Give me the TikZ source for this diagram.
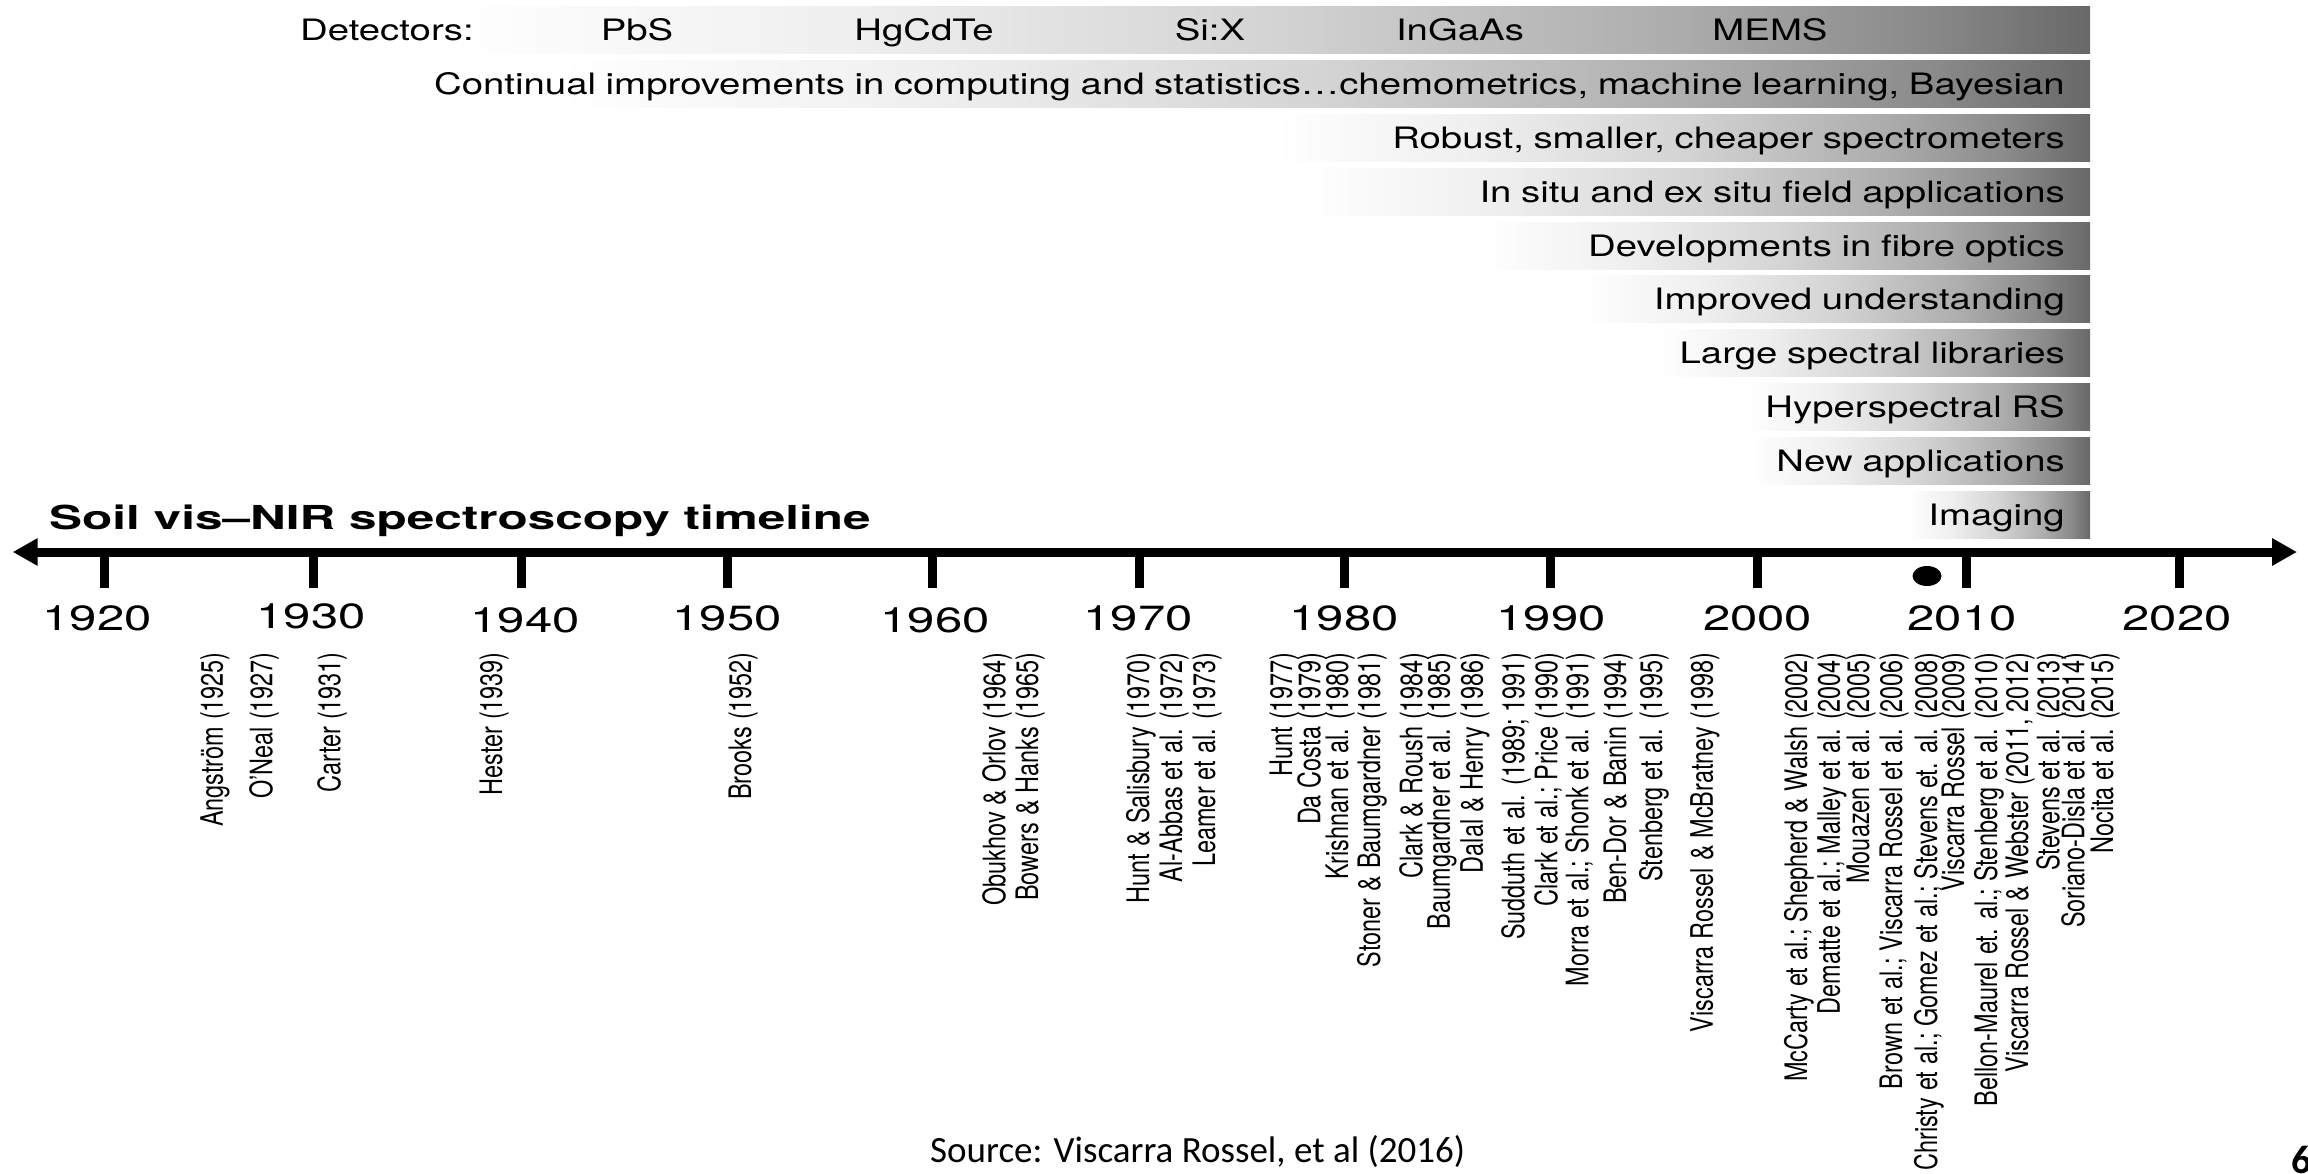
\documentclass[tikz,border=0pt]{standalone}
\usepackage{fontspec}
\setmainfont{TeX Gyre Heros}
% widened Helvetica-like faces for the stretched figure lettering
\newfontfamily\barfont[FakeStretch=1.3]{TeX Gyre Heros}
\newfontfamily\yearfont[FakeStretch=1.4]{TeX Gyre Heros}
\newfontfamily\titlefont[FakeStretch=1.5]{TeX Gyre Heros}
% rotated references: tall size, narrowed along the line
\newfontfamily\citefont[FakeStretch=0.756]{TeX Gyre Heros}
\newfontfamily\notefont{Carlito}
\newcommand\citesetup{\citefont\fontsize{31}{32}\selectfont\spaceskip=7pt plus 2pt\relax}
\newcommand\barsetup{\barfont\fontsize{29.5}{32}\selectfont\spaceskip=9.6pt plus 2pt\relax}
\usetikzlibrary{arrows.meta}

\definecolor{fadeA}{gray}{0.935}
\definecolor{fadeB}{gray}{0.83}
\definecolor{fadeC}{gray}{0.675}
\definecolor{fadeD}{gray}{0.54}
\definecolor{fadeE}{gray}{0.41}
\pgfdeclarehorizontalshading{barfade}{100bp}{color(0bp)=(white); color(25bp)=(white);
  color(37.5bp)=(fadeA); color(50bp)=(fadeB); color(62.5bp)=(fadeC);
  color(70bp)=(fadeD); color(75bp)=(fadeE); color(100bp)=(fadeE)}

\begin{document}
\begin{tikzpicture}[x=1pt,y=-1pt,
  bar/.style={shading=barfade, draw=none},
  bartext/.style={font=\barsetup, inner sep=0pt, anchor=base east},
  dettext/.style={font=\barsetup, inner sep=0pt, anchor=base},
  yeartext/.style={font=\yearfont\fontsize{35}{38}\selectfont, inner sep=0pt, anchor=base},
  cite/.style={font=\citesetup, inner sep=0pt, rotate=90, anchor=east},
  tick/.style={line width=9pt},
  axis/.style={line width=9pt,
    {Triangle[length=25pt,width=26pt]}-{Triangle[length=25pt,width=26pt]}}
]
\useasboundingbox (0,0) rectangle (2308,1174);
\clip (0,0) rectangle (2308,1174);
\fill[white] (0,0) rectangle (2308,1174);

% ---- development bars (fade from white to grey at the right end) ----
\def\barR{2090}
\foreach \i/\xl in {0/450, 1/560, 2/1277, 3/1306, 4/1483, 5/1581, 6/1659, 7/1744, 8/1751, 9/1907}{
  \path[bar] (\xl,{7+53.8*\i}) rectangle (\barR,{54+53.8*\i});
}

% detectors row
\node[bartext] (det) at (474,41) {Detectors:};
\node[dettext] (pbs) at (637,41) {PbS};
\node[dettext] (hgcdte) at (924,41) {HgCdTe};
\node[dettext] (six) at (1210,41) {Si:X};
\node[dettext] (ingaas) at (1460,41) {InGaAs};
\node[dettext] (mems) at (1770,41) {MEMS};

% other bar labels, right aligned
\node[bartext] (comp) at (2065,94.8) {Continual improvements in computing and statistics…chemometrics, machine learning, Bayesian};
\node[bartext] (robust) at (2065,148.6) {Robust, smaller, cheaper spectrometers};
\node[bartext] (insitu) at (2065,202.4) {In situ and ex situ field applications};
\node[bartext] (fibre) at (2065,256.2) {Developments in fibre optics};
\node[bartext] (underst) at (2065,310) {Improved understanding};
\node[bartext] (libs) at (2065,363.8) {Large spectral libraries};
\node[bartext] (hyper) at (2065,417.6) {Hyperspectral RS};
\node[bartext] (newapp) at (2065,471.4) {New applications};
\node[bartext] (imaging) at (2065,525.2) {Imaging};

% ---- title ----
\node[font=\titlefont\bfseries\fontsize{33}{36}\selectfont, inner sep=0pt, anchor=base west]
  (title) at (49,529) {Soil vis–NIR spectroscopy timeline};

% ---- time axis ----
\coordinate (ltip) at (12.7,552);
\coordinate (rtip) at (2297,552);
\draw[axis] (ltip) -- (rtip);

\foreach \yr/\xt/\xl/\dy in {1920/104.5/97/0, 1930/313.5/311/-2, 1940/521/525/2, 1950/727/727/0,
  1960/932/935/2, 1970/1139/1138/0, 1980/1344/1344/0, 1990/1550/1551/0,
  2000/1757.5/1757.5/0, 2010/1966.5/1962/0, 2020/2179/2177/0}{
  \coordinate (tk\yr) at (\xt,552);
  \draw[tick] (tk\yr) -- ++(0,36);
  \node[yeartext] (yr\yr) at (\xl,630+\dy) {\yr};
}
\fill (1927,576) ellipse [x radius=14.5, y radius=10];

% ---- references ----
\node[cite] (r1925) at (215,652) {Angström (1925)};
\node[cite] (r1927) at (264,652) {O’Neal (1927)};
\node[cite] (r1931) at (332,652) {Carter (1931)};
\node[cite] (r1939) at (494,652) {Hester (1939)};
\node[cite] (r1952) at (743,652) {Brooks (1952)};
\node[cite] (r1964) at (997,652) {Obukhov \& Orlov (1964)};
\node[cite] (r1965) at (1030,652) {Bowers \& Hanks (1965)};
\node[cite] (r1970) at (1141,652) {Hunt \& Salisbury (1970)};
\node[cite] (r1972) at (1174,652) {Al-Abbas et al. (1972)};
\node[cite] (r1973) at (1207,652) {Leamer et al. (1973)};
\node[cite] (r1977) at (1284,652) {Hunt (1977)};
\node[cite] (r1979) at (1312,652) {Da Costa (1979)};
\node[cite] (r1980) at (1340,652) {Krishnan et al. (1980)};
\node[cite] (r1981) at (1372,652) {Stoner \& Baumgardner (1981)};
\node[cite] (r1984) at (1414,652) {Clark \& Roush (1984)};
\node[cite] (r1985) at (1442,652) {Baumgardner et al. (1985)};
\node[cite] (r1986) at (1475,652) {Dalal \& Henry (1986)};
\node[cite] (r1989) at (1516,652) {Sudduth et al. (1989; 1991)};
\node[cite] (r1990) at (1549,652) {Clark et al.; Price (1990)};
\node[cite] (r1991) at (1580,652) {Morra et al.; Shonk et al. (1991)};
\node[cite] (r1994) at (1618,652) {Ben-Dor \& Banin (1994)};
\node[cite] (r1995) at (1654,652) {Stenberg et al. (1995)};
\node[cite] (r1998) at (1705,652) {Viscarra Rossel \& McBratney (1998)};
\node[cite] (r2002) at (1799,652) {McCarty et al.; Shepherd \& Walsh (2002)};
\node[cite] (r2004) at (1832,652) {Dematte et al.; Malley et al. (2004)};
\node[cite] (r2005) at (1861,652) {Mouazen et al. (2005)};
\node[cite] (r2006) at (1894,652) {Brown et al.; Viscarra Rossel et al. (2006)};
\node[cite] (r2008) at (1929,652) {Christy et al.; Gomez et al.; Stevens et. al. (2008)};
\node[cite] (r2009) at (1956,652) {Viscarra Rossel (2009)};
\node[cite] (r2010) at (1989,652) {Bellon-Maurel et. al.; Stenberg et al. (2010)};
\node[cite] (r2011) at (2020,652) {Viscarra Rossel \& Webster (2011, 2012)};
\node[cite] (r2013) at (2051,652) {Stevens et al. (2013)};
\node[cite] (r2014) at (2076,652) {Soriano-Disla et al. (2014)};
\node[cite] (r2015) at (2105,652) {Nocita et al. (2015)};

% ---- slide footer ----
\node[font=\notefont\fontsize{37}{40}\selectfont, inner sep=0pt, anchor=base west]
  (source) at (930,1162) {Source: Viscarra Rossel, et al (2016)};
\node[font=\notefont\bfseries\fontsize{40}{40}\selectfont, inner sep=0pt, anchor=base west]
  (pagenum) at (2291,1173) {6};
\end{tikzpicture}
\end{document}
